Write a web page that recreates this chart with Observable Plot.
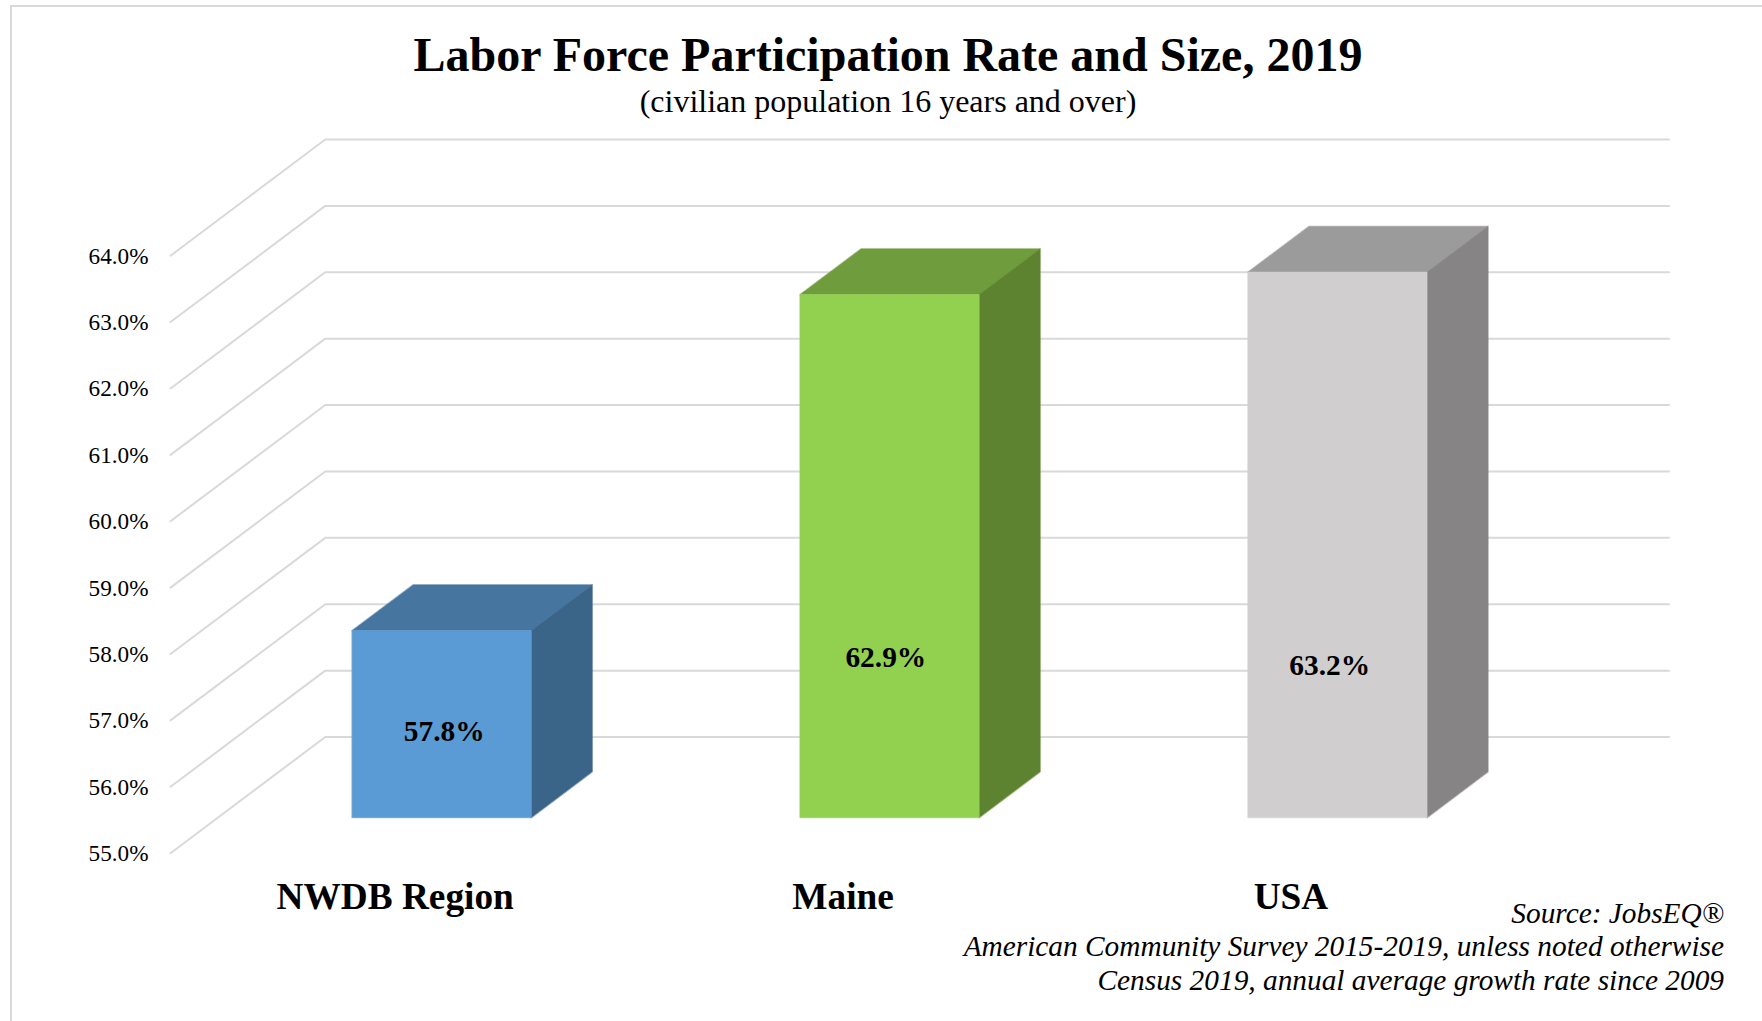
<!DOCTYPE html>
<html>
<head>
<meta charset="utf-8">
<script src="https://cdn.jsdelivr.net/npm/d3@7"></script>
<script src="https://cdn.jsdelivr.net/npm/@observablehq/plot@0.6"></script>
<style>
  html, body { margin: 0; padding: 0; background: #fff; overflow: hidden; }
  body { width: 1762px; height: 1021px; position: relative; font-family: "Liberation Serif", serif; color: #000; }
  #frame { position: absolute; left: 9.5px; top: 5px; right: 0; bottom: 0; border-left: 2px solid #d9d9d9; border-top: 2px solid #d9d9d9; }
  #chart { position: absolute; left: 0; top: 0; }
  .t { position: absolute; white-space: nowrap; }
  #title { left: 0; width: 1776px; text-align: center; top: 27px; font-size: 48px; line-height: 56px; font-weight: bold; }
  #subtitle { left: 0; width: 1776px; text-align: center; top: 82px; font-size: 32px; line-height: 38px; }
  #caption { right: 38px; top: 897px; font-size: 29.35px; line-height: 33.4px; font-style: italic; text-align: right; }
</style>
</head>
<body>
<div id="frame"></div>
<div id="chart"></div>
<div class="t" id="title">Labor Force Participation Rate and Size, 2019</div>
<div class="t" id="subtitle">(civilian population 16 years and over)</div>
<div class="t" id="caption">Source: JobsEQ®<br>American Community Survey 2015-2019, unless noted otherwise<br>Census 2019, annual average growth rate since 2009</div>
<script>
// Data
const categories = ["NWDB Region", "Maine", "USA"];
const values = [57.82, 62.88, 63.22];
const valueLabels = ["57.8%", "62.9%", "63.2%"];
const yTicks = [55, 56, 57, 58, 59, 60, 61, 62, 63, 64];

// Colours of each bar's faces
const frontColors = ["#5b9bd5", "#92d050", "#d0cece"];
const topColors = ["#4675a0", "#6f9c3d", "#9c9b9b"];
const sideColors = ["#3a6488", "#5e8330", "#868484"];

// Oblique projection of the Excel 3-D chart, in data units
const depthX = 0.3455;   // horizontal shift from the front plane to the back wall (in category slots)
const depthY = 1.75;     // vertical shift from the front plane to the back wall (in percentage points)
const barFrontDepth = 0.305;
const barBackDepth = 0.70;
const barStart = 0.30;   // bar inset inside its slot
const barWidth = 0.40;
const baseValue = 55;
// Hand-placed data labels of the reference (slot position, value height)
const labelSlotX = [0.611, 1.597, 2.588];
const labelHeight = [56.83, 57.95, 57.83];

const project = (u, v, depth) => ({x: u + depth * depthX, y: v + depth * depthY});

const gridRows = yTicks.flatMap((v) => [
  {id: v, ...project(0, v, 0)},
  {id: v, ...project(0, v, 1)},
  {id: v, ...project(categories.length, v, 1)}
]);

const faceRows = values.flatMap((v, i) => {
  const l = i + barStart, r = l + barWidth, f = barFrontDepth, b = barBackDepth;
  const face = (name, color, corners) =>
    corners.map(([u, val, d]) => ({id: `${i}-${name}`, color, ...project(u, val, d)}));
  return [
    ...face("top", topColors[i], [[l, v, f], [r, v, f], [r, v, b], [l, v, b]]),
    ...face("side", sideColors[i], [[r, baseValue, f], [r, v, f], [r, v, b], [r, baseValue, b]]),
    ...face("front", frontColors[i], [[l, baseValue, f], [r, baseValue, f], [r, v, f], [l, v, f]])
  ];
});

const labelRows = valueLabels.map((text, i) => ({text, x: labelSlotX[i], y: labelHeight[i]}));

const plot = Plot.plot({
  width: 1762,
  height: 1021,
  marginLeft: 170,
  marginRight: 93.5,
  marginTop: 139,
  marginBottom: 168.3,
  style: {fontFamily: '"Liberation Serif", serif', background: "transparent", color: "#000"},
  x: {domain: [0, categories.length + depthX], label: null},
  y: {domain: [baseValue, 64 + depthY], label: null},
  marks: [
    Plot.line(gridRows, {x: "x", y: "y", z: "id", stroke: "#d9d9d9", strokeWidth: 2}),
    Plot.line(faceRows, {x: "x", y: "y", z: "id", fill: "color", stroke: "color", strokeWidth: 0.5, curve: "linear-closed"}),
    Plot.text(labelRows, {x: "x", y: "y", text: "text", fontSize: 29.4, fontWeight: "bold", fill: "#000"}),
    Plot.axisY({ticks: yTicks, tickSize: 0, tickPadding: 22, dy: 0.5, fontSize: 23.2, tickFormat: (d) => d.toFixed(1) + "%", label: null}),
    Plot.axisX({ticks: categories.map((_, i) => i + 0.5), tickSize: 0, tickPadding: 29, dx: 0.7, fontSize: 37.3, fontWeight: "bold",
      tickFormat: (d) => categories[Math.floor(d)], label: null})
  ]
});
document.getElementById("chart").append(plot);
</script>
</body>
</html>
